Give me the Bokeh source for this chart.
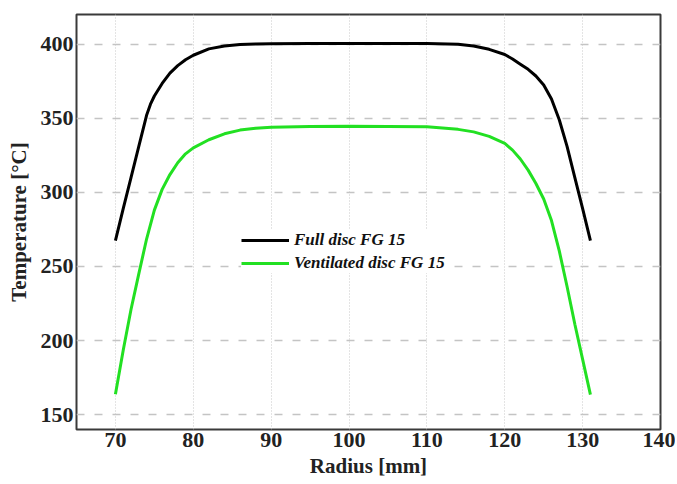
from bokeh.plotting import figure
from bokeh.models import FixedTicker, Range1d, Legend, LegendItem
from bokeh.embed import file_html
from bokeh.resources import INLINE

# Data
radius_full = [70, 71, 72, 73, 74, 74.5, 75, 76, 77, 78, 79, 80, 82, 84, 86, 88, 90, 95, 100,
               105, 110, 114, 116, 118, 120, 121, 122, 123, 124, 125, 126, 127, 128, 129, 130, 131]
temp_full = [267.5, 289, 310, 331, 352, 359.5, 365, 373.5, 380.5, 385.5, 389.5, 392.5, 396.8, 398.7, 399.7, 400.1, 400.3, 400.5, 400.5,
             400.5, 400.4, 400, 398.8, 396.5, 393, 390, 386.5, 383, 378.5, 372.5, 363, 349, 331, 310, 289, 267.5]

radius_vent = [70, 71, 72, 73, 74, 75, 76, 77, 78, 79, 80, 82, 84, 86, 88, 90, 95, 100,
               105, 110, 114, 116, 118, 120, 121, 122, 123, 124, 125, 126, 127, 128, 129, 130, 131]
temp_vent = [163.8, 193.5, 221, 245, 268.5, 288, 302, 312, 320, 326, 330, 335.5, 339.5, 342, 343.3, 344, 344.5, 344.6,
             344.5, 344.2, 342.5, 340.8, 337.8, 333, 328.5, 322.5, 315, 306, 295.5, 281, 260.5, 236.5, 211, 187.3, 163.5]

x_ticks = [70, 80, 90, 100, 110, 120, 130, 140]
y_ticks = [150, 200, 250, 300, 350, 400]
series_labels = ["Full disc FG 15", "Ventilated disc FG 15"]

p = figure(width=675, height=482, output_backend="svg", toolbar_location=None,
           x_range=Range1d(65, 140), y_range=Range1d(140, 420),
           min_border_left=76, min_border_right=15, min_border_top=14, min_border_bottom=53)

p.outline_line_color = "#3a3a3a"
p.outline_line_width = 2
p.background_fill_color = "white"
p.border_fill_color = "white"

r1 = p.line(radius_full, temp_full, line_color="black", line_width=3)
r2 = p.line(radius_vent, temp_vent, line_color="#22e022", line_width=3)

for ax in (p.xaxis[0], p.yaxis[0]):
    ax.axis_line_color = None
    ax.major_tick_line_color = None
    ax.minor_tick_line_color = None
    ax.major_tick_out = 0
    ax.major_tick_in = 0
    ax.major_label_text_font = "Liberation Serif"
    ax.major_label_text_font_style = "bold"
    ax.major_label_text_font_size = "22px"
    ax.major_label_text_color = "#222222"
    ax.axis_label_text_font = "Liberation Serif"
    ax.axis_label_text_font_style = "bold"
    ax.axis_label_text_font_size = "21px"
    ax.axis_label_text_color = "#222222"

p.xaxis.ticker = FixedTicker(ticks=x_ticks)
p.yaxis.ticker = FixedTicker(ticks=y_ticks)
p.xaxis.axis_label = "Radius [mm]"
p.yaxis.axis_label = "Temperature [°C]"
p.xaxis.major_label_standoff = 3
p.xaxis.axis_label_standoff = 4
p.yaxis.major_label_standoff = 3
p.yaxis.axis_label_standoff = 7

p.xgrid.grid_line_color = "#c8c8c8"
p.xgrid.grid_line_dash = "1 2"
p.xgrid.grid_line_width = 1
p.ygrid.grid_line_color = "#c4c4c4"
p.ygrid.grid_line_dash = "8 10"
p.ygrid.grid_line_width = 1.5

legend = Legend(items=[LegendItem(label=series_labels[0], renderers=[r1]),
                       LegendItem(label=series_labels[1], renderers=[r2])],
                location=(165, 156))
legend.border_line_color = None
legend.background_fill_color = "white"
legend.background_fill_alpha = 1.0
legend.label_text_font = "Liberation Serif"
legend.label_text_font_style = "bold italic"
legend.label_text_font_size = "17px"
legend.label_text_color = "#111111"
legend.glyph_width = 48
legend.glyph_height = 20
legend.label_height = 20
legend.label_standoff = 5
legend.spacing = 3
legend.padding = 10
legend.margin = 0
p.add_layout(legend, "center")

open("out.html", "w").write(file_html(p, INLINE))
